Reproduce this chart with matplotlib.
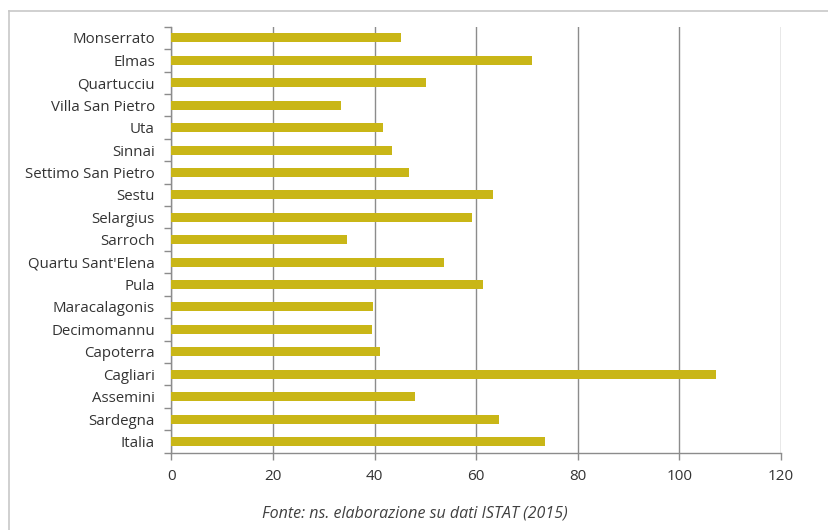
import matplotlib
matplotlib.use("Agg")
import matplotlib.pyplot as plt
import numpy as np
from matplotlib.ticker import FixedLocator
from matplotlib.lines import Line2D

# values (top to bottom)
comuni = ["Monserrato", "Elmas", "Quartucciu", "Villa San Pietro", "Uta",
          "Sinnai", "Settimo San Pietro", "Sestu", "Selargius", "Sarroch",
          "Quartu Sant'Elena", "Pula", "Maracalagonis", "Decimomannu",
          "Capoterra", "Cagliari", "Assemini", "Sardegna", "Italia"]
valori = [45.1, 70.9, 50.2, 33.3, 41.7,
          43.5, 46.7, 63.3, 59.2, 34.5,
          53.6, 61.4, 39.6, 39.4,
          41.0, 107.2, 47.9, 64.5, 73.5]
xticks = [0, 20, 40, 60, 80, 100, 120]
fonte = "Fonte: ns. elaborazione su dati ISTAT (2015)"

plt.rcParams['font.family'] = ['Open Sans', 'DejaVu Sans']

fig = plt.figure(figsize=(8.29, 5.30), dpi=100)
ax = fig.add_axes([171.5 / 829, 1 - 452.7 / 530, (781 - 171.5) / 829, (452.7 - 26.7) / 530])

y = np.arange(len(comuni))[::-1]
ax.barh(y, valori, height=0.4, color="#C9B617", zorder=3)

ax.set_xlim(0, 120)
ax.set_ylim(-0.5, len(comuni) - 0.5)
ax.set_xticks(xticks)
ax.set_xticklabels([str(t) for t in xticks])
ax.set_yticks(y)
ax.set_yticklabels(comuni)
ax.yaxis.set_minor_locator(FixedLocator(np.arange(-0.5, len(comuni), 1)))

ax.grid(axis="x", color="#8c8c8c", linewidth=1, zorder=0)
for s in ["top", "right"]:
    ax.spines[s].set_visible(False)
for s in ["left", "bottom"]:
    ax.spines[s].set_color("#8c8c8c")
    ax.spines[s].set_linewidth(1)

ax.tick_params(axis="y", which="major", length=0, pad=12, labelsize=10.8, labelcolor="#333333")
ax.tick_params(axis="y", which="minor", length=5, color="#8c8c8c", width=1)
ax.tick_params(axis="x", length=5, color="#8c8c8c", width=1, pad=7, labelsize=11, labelcolor="#333333")

fig.text(415 / 829, 1 - 513 / 530, fonte, ha="center", va="center",
         fontsize=11.5, style="italic", color="#404040")

# outer frame (left and top edges only)
fig.add_artist(Line2D([9 / 829, 9 / 829], [0, 1 - 11 / 530], transform=fig.transFigure,
                      color="#c8c8c8", linewidth=1.2))
fig.add_artist(Line2D([9 / 829, 1], [1 - 11 / 530, 1 - 11 / 530], transform=fig.transFigure,
                      color="#c8c8c8", linewidth=1.2))

fig.savefig("out.png", dpi=100)
